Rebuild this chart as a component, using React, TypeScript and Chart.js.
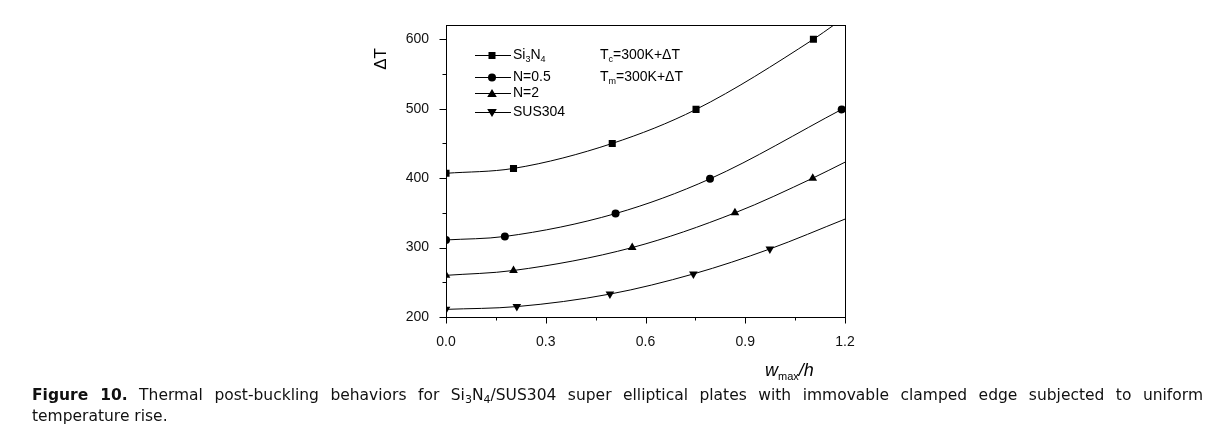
import React, { useEffect, useRef } from 'react';
import { Chart, registerables } from 'chart.js';

Chart.register(...registerables);

// ---- data ----
const si3n4X = [0, 0.203, 0.5, 0.752, 1.105, 1.165];
const si3n4Y = [407, 414, 450, 499, 600, 620];
const si3n4Marked = [true, true, true, true, true, false];

const n05X = [0, 0.177, 0.51, 0.794, 1.19];
const n05Y = [311, 316, 349, 399, 499];
const n05Marked = [true, true, true, true, true];

const n2X = [0, 0.203, 0.56, 0.869, 1.103, 1.2];
const n2Y = [260, 267, 300, 350, 400, 423];
const n2Marked = [true, true, true, true, true, false];

const susX = [0, 0.213, 0.493, 0.744, 0.974, 1.2];
const susY = [211, 215, 233, 262, 298, 341];
const susMarked = [true, true, true, true, true, false];

const seriesLabels = ['Si_3N_4', 'N=0.5', 'N=2', 'SUS304'];
const seriesStyles = ['rect', 'circle', 'triangle', 'triangleDown'];
const noteLabels = ['T_c=300K+ΔT', 'T_m=300K+ΔT'];

const yTickValues = [200, 250, 300, 350, 400, 450, 500, 550, 600];
const xTickValues = [0, 0.15, 0.3, 0.45, 0.6, 0.75, 0.9, 1.05, 1.2];

const FAMILY = '"Liberation Sans", Arimo, Arial, sans-serif';

function toPoints(xs: number[], ys: number[]) {
  return xs.map((x, i) => ({ x, y: ys[i] }));
}

function makeDataset(label: string, xs: number[], ys: number[], marked: boolean[], style: string) {
  const isDown = style === 'triangleDown';
  const pStyle = isDown ? 'triangle' : style;
  const r = style === 'rect' ? 5 : style === 'circle' ? 4 : 5;
  return {
    label,
    data: toPoints(xs, ys),
    borderColor: '#000',
    backgroundColor: '#000',
    borderWidth: 1,
    pointStyle: pStyle,
    pointRotation: isDown ? 180 : 0,
    pointRadius: marked.map((m) => (m ? r : 0)),
    pointBorderWidth: 0,
    pointBackgroundColor: '#000',
    cubicInterpolationMode: 'monotone',
    fill: false,
  };
}

// draw text with "_x" subscript markup
function drawRich(ctx: CanvasRenderingContext2D, text: string, x: number, y: number, size: number, family: string) {
  let cx = x;
  let i = 0;
  while (i < text.length) {
    const ch = text[i];
    if (ch === '_' && i + 1 < text.length) {
      ctx.font = `${Math.round(size * 0.62)}px ${family}`;
      ctx.fillText(text[i + 1], cx, y + size * 0.3);
      cx += ctx.measureText(text[i + 1]).width;
      i += 2;
    } else {
      ctx.font = `${size}px ${family}`;
      ctx.fillText(ch, cx, y);
      cx += ctx.measureText(ch).width;
      i += 1;
    }
  }
}

function drawMarker(ctx: CanvasRenderingContext2D, style: string, x: number, y: number) {
  ctx.beginPath();
  if (style === 'rect') {
    ctx.rect(x - 3.5, y - 3.5, 7, 7);
  } else if (style === 'circle') {
    ctx.arc(x, y, 4, 0, Math.PI * 2);
  } else if (style === 'triangle') {
    ctx.moveTo(x, y - 4.5);
    ctx.lineTo(x + 4.8, y + 3.5);
    ctx.lineTo(x - 4.8, y + 3.5);
    ctx.closePath();
  } else {
    ctx.moveTo(x, y + 4.5);
    ctx.lineTo(x + 4.8, y - 3.5);
    ctx.lineTo(x - 4.8, y - 3.5);
    ctx.closePath();
  }
  ctx.fill();
}

const decorPlugin = {
  id: 'decor',
  afterDraw(chart: any) {
    const { ctx, chartArea: a, scales } = chart;
    const xs = scales.x;
    const ys = scales.y;
    ctx.save();
    ctx.strokeStyle = '#000';
    ctx.fillStyle = '#000';
    ctx.lineWidth = 1;
    const L = Math.round(a.left) + 0.5;
    const R = Math.round(a.right) + 0.5;
    const T = Math.round(a.top) + 0.5;
    const B = Math.round(a.bottom) + 0.5;
    ctx.strokeRect(L, T, R - L, B - T);

    // y ticks
    ctx.beginPath();
    yTickValues.forEach((v) => {
      const py = Math.round(ys.getPixelForValue(v)) + 0.5;
      const len = v % 100 === 0 ? 7 : 4;
      ctx.moveTo(L - len, py);
      ctx.lineTo(L, py);
    });
    // x ticks
    xTickValues.forEach((v, i) => {
      const px = Math.round(xs.getPixelForValue(v)) + 0.5;
      const len = i % 2 === 0 ? 6 : 3;
      ctx.moveTo(px, B);
      ctx.lineTo(px, B + len);
    });
    ctx.stroke();

    // y title
    ctx.save();
    ctx.translate(373, 51);
    ctx.rotate(-Math.PI / 2);
    ctx.font = `17px ${FAMILY}`;
    ctx.textAlign = 'center';
    ctx.textBaseline = 'middle';
    ctx.fillText('ΔT', 0, 0);
    ctx.restore();

    // x title: w_max/h
    ctx.textBaseline = 'alphabetic';
    ctx.textAlign = 'left';
    let tx = 757;
    const ty = 368;
    ctx.font = `italic 18px ${FAMILY}`;
    ctx.fillText('w', tx, ty);
    tx += ctx.measureText('w').width;
    ctx.font = `11px ${FAMILY}`;
    ctx.fillText('max', tx, ty + 4);
    tx += ctx.measureText('max').width;
    ctx.font = `italic 18px ${FAMILY}`;
    ctx.fillText('/h', tx, ty);

    // legend
    const rows = [47, 69, 85, 104];
    ctx.textBaseline = 'middle';
    seriesLabels.forEach((lab, i) => {
      const y = rows[i];
      ctx.beginPath();
      ctx.moveTo(467, Math.round(y) + 0.5);
      ctx.lineTo(503, Math.round(y) + 0.5);
      ctx.stroke();
      drawMarker(ctx, seriesStyles[i], 484, Math.round(y) + 0.5);
      drawRich(ctx, lab, 505, y, 14, FAMILY);
    });
    noteLabels.forEach((lab, i) => {
      drawRich(ctx, lab, 592, rows[i], 14, FAMILY);
    });
    ctx.restore();
  },
};

function ChartView() {
  const ref = useRef<HTMLCanvasElement | null>(null);
  useEffect(() => {
    if (!ref.current) return;
    const chart = new Chart(ref.current, {
      type: 'line',
      data: {
        datasets: [
          makeDataset(seriesLabels[0], si3n4X, si3n4Y, si3n4Marked, seriesStyles[0]),
          makeDataset(seriesLabels[1], n05X, n05Y, n05Marked, seriesStyles[1]),
          makeDataset(seriesLabels[2], n2X, n2Y, n2Marked, seriesStyles[2]),
          makeDataset(seriesLabels[3], susX, susY, susMarked, seriesStyles[3]),
        ] as any,
      },
      options: {
        animation: false,
        responsive: false,
        maintainAspectRatio: false,
        layout: { padding: { left: 388, right: 378, top: 15, bottom: 41 } },
        plugins: { legend: { display: false }, tooltip: { enabled: false } },
        scales: {
          x: {
            type: 'linear',
            min: 0,
            max: 1.2,
            afterBuildTicks: (s: any) => {
              s.ticks = xTickValues.map((v) => ({ value: v }));
            },
            afterFit: (s: any) => {
              s.height = 30;
            },
            grid: { display: false },
            border: { display: false },
            ticks: {
              autoSkip: false,
              maxRotation: 0,
              padding: 9,
              color: '#111',
              font: { family: FAMILY, size: 14 },
              callback: (v: any, i: number) => (i % 2 === 0 ? Number(v).toFixed(1) : ''),
            },
          },
          y: {
            type: 'linear',
            min: 200,
            max: 620,
            afterBuildTicks: (s: any) => {
              s.ticks = yTickValues.map((v) => ({ value: v }));
            },
            afterFit: (s: any) => {
              s.width = 50;
            },
            grid: { display: false },
            border: { display: false },
            ticks: {
              autoSkip: false,
              padding: 9,
              color: '#111',
              font: { family: FAMILY, size: 14 },
              callback: (v: any) => (Number(v) % 100 === 0 ? String(v) : ''),
            },
          },
        },
      } as any,
      plugins: [decorPlugin],
    });
    return () => chart.destroy();
  }, []);
  return <canvas ref={ref} width={1215} height={380} style={{ display: 'block', width: 1215, height: 380 }} />;
}

const subStyle: React.CSSProperties = { fontSize: '11px', verticalAlign: '-3px', lineHeight: 0 };

export default function App() {
  const cap: React.CSSProperties = {
    position: 'absolute',
    left: 24,
    width: 1171,
    font: '15.5px "DejaVu Sans", sans-serif',
    lineHeight: '21px',
    color: '#111',
    whiteSpace: 'nowrap',
  };
  return (
    <div style={{ position: 'relative', width: 1215, height: 420 }}>
      <ChartView />
      <div style={{ ...cap, top: 377, textAlign: 'justify', textAlignLast: 'justify', whiteSpace: 'normal' }}>
        <b>Figure 10.</b> Thermal post-buckling behaviors for Si<sub style={subStyle}>3</sub>N
        <sub style={subStyle}>4</sub>/SUS304 super elliptical plates with immovable clamped edge subjected to uniform
      </div>
      <div style={{ ...cap, top: 398 }}>temperature rise.</div>
    </div>
  );
}
